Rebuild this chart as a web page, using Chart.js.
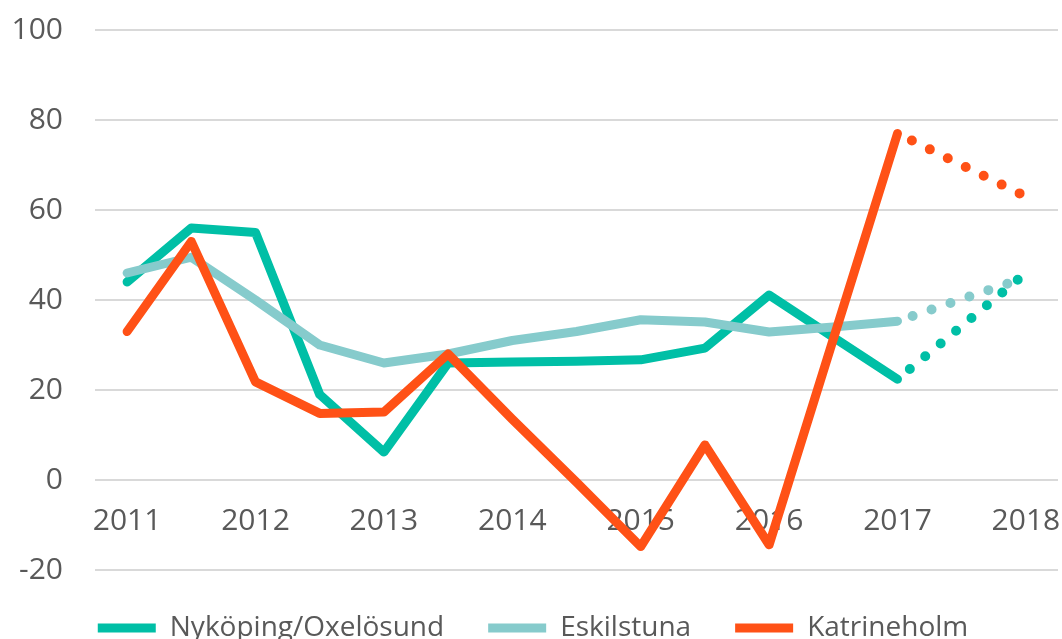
<!DOCTYPE html>
<html>
<head>
<meta charset="utf-8">
<script src="https://cdn.jsdelivr.net/npm/chart.js@4"></script>
<style>
  html, body { margin: 0; padding: 0; background: #fff; overflow: hidden; }
  #wrap { width: 1062px; height: 652px; position: relative; }
</style>
</head>
<body>
<div id="wrap"><canvas id="chart"></canvas></div>
<script>
// halvår 2011 - 2018, bara helår får etikett
const periods = ['2011', '2011 H2', '2012', '2012 H2', '2013', '2013 H2', '2014', '2014 H2',
                 '2015', '2015 H2', '2016', '2016 H2', '2017', '2017 H2', '2018'];
const yTicks = [-20, 0, 20, 40, 60, 80, 100];

// utfall 2011 - 2017
const nykoping = [44, 56, 55, 19, 6.2, 26, 26.2, 26.4, 26.7, 29.3, 41.1, 31.7, 22.4];
const eskilstuna = [46, 49.5, 40, 30, 26, 28, 31, 33, 35.6, 35.1, 32.9, 34, 35.3];
const katrineholm = [33, 53, 21.8, 14.8, 15.1, 28, 13.5, -0.5, -14.8, 7.8, -14.4, 31.3, 77];

// prognos 2017 - 2018 (prickad)
const nykopingProg = [null, null, null, null, null, null, null, null, null, null, null, null, 22.4, 34.2, 46];
const eskilstunaProg = [null, null, null, null, null, null, null, null, null, null, null, null, 35.3, 40.2, 45];
const katrineholmProg = [null, null, null, null, null, null, null, null, null, null, null, null, 77, 70, 63];

const names = ['Nyköping/Oxelösund', 'Eskilstuna', 'Katrineholm'];
const colors = ['#00BFA6', '#86CBCC', '#FF5116'];

const FONT = "'Open Sans', sans-serif";
const TEXT = '#595959';

function solid(label, data, color, order) {
    return {
        label: label, data: data, borderColor: color, backgroundColor: color,
        borderWidth: 9, borderCapStyle: 'round', borderJoinStyle: 'round',
        pointRadius: 0, pointHoverRadius: 0, tension: 0, order: order
    };
}
function dotted(data, color, order) {
    return {
        label: 'prognos', data: data, borderColor: color, backgroundColor: color,
        borderWidth: 10, borderCapStyle: 'round', borderDash: [0, 20], borderDashOffset: -16,
        pointRadius: 0, pointHoverRadius: 0, tension: 0, order: order
    };
}

new Chart(document.getElementById('chart').getContext('2d'), {
    type: 'line',
    data: {
        labels: periods,
        datasets: [
            solid(names[0], nykoping, colors[0], 2),
            solid(names[1], eskilstuna, colors[1], 1),
            solid(names[2], katrineholm, colors[2], 0),
            dotted(nykopingProg, colors[0], 2),
            dotted(eskilstunaProg, colors[1], 1),
            dotted(katrineholmProg, colors[2], 0)
        ]
    },
    options: {
        responsive: true,
        maintainAspectRatio: false,
        animation: false,
        layout: { padding: { top: 30, left: 8, right: 4, bottom: 0 } },
        scales: {
            x: {
                offset: true,
                position: { y: 0 },
                grid: { display: false, drawTicks: false },
                border: { display: false },
                ticks: {
                    autoSkip: false, maxRotation: 0, padding: 23,
                    color: TEXT, font: { family: FONT, size: 30 },
                    callback: function (v, i) { return i % 2 === 0 ? periods[i] : ''; }
                },
                afterFit: function (s) { s.paddingLeft = 0; s.paddingRight = 0; }
            },
            y: {
                min: yTicks[0], max: yTicks[yTicks.length - 1],
                afterBuildTicks: function (s) { s.ticks = yTicks.map(v => ({ value: v })); },
                grid: { color: '#D9D9D9', lineWidth: 2, drawTicks: false },
                border: { display: false },
                ticks: { padding: 32, color: TEXT, font: { family: FONT, size: 30 } },
                afterFit: function (s) { s.paddingTop = 0; s.paddingBottom = 0; s.width = 87; }
            }
        },
        plugins: {
            legend: {
                position: 'bottom',
                labels: {
                    filter: item => item.datasetIndex < 3,
                    sort: (a, b) => a.datasetIndex - b.datasetIndex,
                    usePointStyle: true, pointStyle: 'line', pointStyleWidth: 58,
                    padding: 44, color: TEXT, font: { family: FONT, size: 28 }
                }
            },
            tooltip: { enabled: false }
        }
    }
});
</script>
</body>
</html>
